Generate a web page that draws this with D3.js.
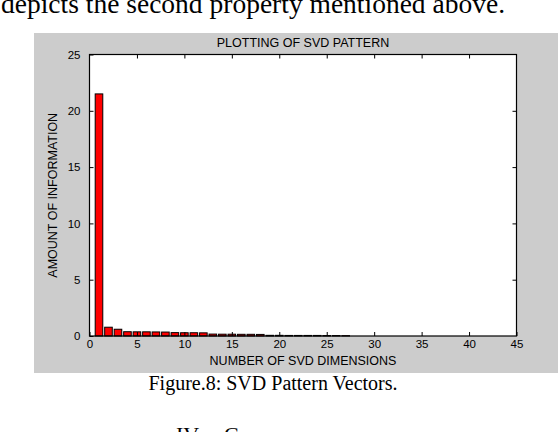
<!DOCTYPE html>
<html>
<head>
<meta charset="utf-8">
<script src="https://cdn.jsdelivr.net/npm/d3@7"></script>
<style>
    body { margin: 0; background: #ffffff; }
    svg { display: block; }
    .axis text { font-family: "Liberation Sans", Arial, sans-serif; font-size: 11.5px; fill: #000; }
    .axis line { stroke: #000; }
    .axis path { stroke: none; }
</style>
</head>
<body>
<div id="chart"></div>
<script>
//
// SVD pattern bar chart
//

var dimensions = d3.range(1, 28);   // svd dimension index 1..27
var information = [21.5, 0.78, 0.6, 0.38, 0.37, 0.37, 0.36, 0.35, 0.3, 0.29, 0.29, 0.28,
    0.17, 0.16, 0.16, 0.15, 0.15, 0.14, 0.06, 0.06, 0.05, 0.05, 0.05, 0.05, 0.04, 0.04, 0.03];
var xTicks = [0, 5, 10, 15, 20, 25, 30, 35, 40, 45];
var yTicks = [0, 5, 10, 15, 20, 25];

function drawChart(divName, width, height) {
    var plotLeft = 89.5;
    var plotRight = 516.5;
    var plotTop = 54.5;
    var plotBottom = 336;

    var svg = d3.select("#" + divName)
        .append("svg")
        .attr("width", width)
        .attr("height", height);

    var serif = "'Liberation Serif', 'Times New Roman', serif";
    var labelFont = "'Liberation Sans', Arial, sans-serif";

    // text of the paper page around the figure
    svg.append("text")
        .attr("x", 1)
        .attr("y", 13)
        .style("font-family", serif)
        .style("font-size", "27.5px")
        .text("depicts the second property mentioned above.");

    // grey figure background
    svg.append("rect")
        .attr("x", 34)
        .attr("y", 33)
        .attr("width", width - 34)
        .attr("height", 340)
        .attr("fill", "#cccccc");

    svg.append("rect")
        .attr("x", plotLeft)
        .attr("y", plotTop)
        .attr("width", plotRight - plotLeft)
        .attr("height", plotBottom - plotTop)
        .attr("fill", "#ffffff");

    var x = d3.scaleLinear().domain([0, 45]).range([plotLeft, plotRight]);
    var y = d3.scaleLinear().domain([0, 25]).range([plotBottom, plotTop]);

    // bars (matlab default width 0.8)
    var barWidth = 0.8;
    svg.append("g")
        .selectAll("rect")
        .data(dimensions)
        .enter()
        .append("rect")
        .attr("x", function (d) { return x(d - barWidth / 2); })
        .attr("y", function (d, i) { return y(information[i]); })
        .attr("width", function (d) { return x(d + barWidth / 2) - x(d - barWidth / 2); })
        .attr("height", function (d, i) { return y(0) - y(information[i]); })
        .attr("fill", "#ff0000")
        .attr("stroke", "#000")
        .attr("stroke-width", 1);

    // axes, ticks pointing inward on all four sides
    svg.append("g")
        .attr("class", "axis")
        .attr("transform", "translate(0," + plotBottom + ")")
        .call(d3.axisBottom(x).tickValues(xTicks).tickSizeInner(-4).tickSizeOuter(0).tickPadding(4))
        .selectAll("text")
        .attr("dy", "0.71em");

    svg.append("g")
        .attr("class", "axis")
        .attr("transform", "translate(0," + plotTop + ")")
        .call(d3.axisTop(x).tickValues(xTicks.slice(1, -1)).tickSizeInner(-4).tickSizeOuter(0).tickFormat(""));

    svg.append("g")
        .attr("class", "axis")
        .attr("transform", "translate(" + plotLeft + ",0)")
        .call(d3.axisLeft(y).tickValues(yTicks).tickSizeInner(-4).tickSizeOuter(0).tickPadding(9));

    svg.append("g")
        .attr("class", "axis")
        .attr("transform", "translate(" + plotRight + ",0)")
        .call(d3.axisRight(y).tickValues(yTicks.slice(1, -1)).tickSizeInner(-4).tickSizeOuter(0).tickFormat(""));

    // plot box
    svg.append("rect")
        .attr("x", plotLeft)
        .attr("y", plotTop)
        .attr("width", plotRight - plotLeft)
        .attr("height", plotBottom - plotTop)
        .attr("fill", "none")
        .attr("stroke", "#000")
        .attr("stroke-width", 1.2);

    svg.append("text")
        .attr("x", (plotLeft + plotRight) / 2)
        .attr("y", 47)
        .style("text-anchor", "middle")
        .style("font-family", labelFont)
        .style("font-size", "12.5px")
        .text("PLOTTING OF SVD PATTERN");

    svg.append("text")
        .attr("x", (plotLeft + plotRight) / 2)
        .attr("y", 365)
        .style("text-anchor", "middle")
        .style("font-family", labelFont)
        .style("font-size", "12.5px")
        .text("NUMBER OF SVD DIMENSIONS");

    svg.append("text")
        .attr("transform", "rotate(-90)")
        .attr("x", -(plotTop + plotBottom) / 2)
        .attr("y", 57)
        .style("text-anchor", "middle")
        .style("font-family", labelFont)
        .style("font-size", "12.5px")
        .text("AMOUNT OF INFORMATION");

    // caption and next heading
    svg.append("text")
        .attr("x", 273)
        .attr("y", 390)
        .style("text-anchor", "middle")
        .style("font-family", serif)
        .style("font-size", "20px")
        .text("Figure.8: SVD Pattern Vectors.");

    svg.append("text")
        .attr("x", 176)
        .attr("y", 442)
        .style("font-family", serif)
        .style("font-size", "22px")
        .text("IV.");

    svg.append("text")
        .attr("x", 224)
        .attr("y", 442)
        .style("font-family", serif)
        .style("font-size", "22px")
        .style("font-variant", "small-caps")
        .text("Classification");

    return svg;
}

drawChart("chart", 558, 432);
</script>
</body>
</html>
